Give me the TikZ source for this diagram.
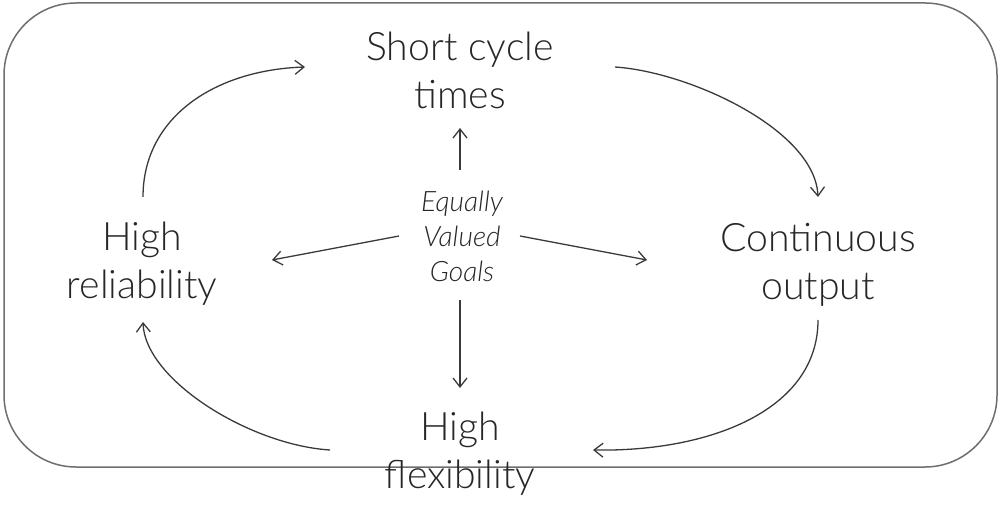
\documentclass[tikz,border=0pt]{standalone}
\usepackage{fontspec}
\setmainfont{Lato}[UprightFont=* Light, ItalicFont=* Light Italic]
\usepackage{tikz}
\usetikzlibrary{arrows.meta, positioning}

\definecolor{ink}{HTML}{262626}
\definecolor{wire}{HTML}{3A3A3A}
\definecolor{frame}{HTML}{6E6E6E}

\begin{document}
\begin{tikzpicture}[x=0.2mm, y=-0.2mm,
    goal/.style={align=center, text=ink, font=\fontsize{22.3}{27.3}\selectfont, inner sep=0pt},
    core/.style={align=center, text=ink, font=\fontsize{16}{19.9}\selectfont\itshape, inner sep=0pt},
    arr/.style={-{Straight Barb[length=1.8mm, width=2.8mm]}, draw=wire, line width=0.26mm}]
    % Canvas size of the reference
    \useasboundingbox (0,0) rectangle (1002,505);

    % Outer rounded frame
    \draw[frame, line width=0.3mm, rounded corners=14.4mm] (4,3) rectangle (997,467);

    % The four goals and the centre
    \node[goal] (cycle) at (460,70) {Short cycle\\times};
    \node[goal] (output) at (818,265) {Continuous\\output};
    \node[goal] (flex) at (460,454) {High\\flexibility};
    \node[goal] (rel) at (142,264) {High\\reliability};
    \node[core] (goals) at (462,236) {Equally\\Valued\\Goals};

    % Ends of the connectors
    \coordinate (goalsN) at (460,170);
    \coordinate (goalsS) at (460,300);
    \coordinate (goalsW) at (399,236);
    \coordinate (goalsE) at (520,236);
    \coordinate (cycleS) at (460,128);
    \coordinate (flexN) at (460,388);
    \coordinate (relE) at (272,260);
    \coordinate (outputW) at (647,260);
    \coordinate (cycleW) at (305,67);
    \coordinate (cycleE) at (615,67);
    \coordinate (outputN) at (818,197);
    \coordinate (outputS) at (818,320);
    \coordinate (flexE) at (593,450);
    \coordinate (flexW) at (330,450);
    \coordinate (relS) at (143,322);
    \coordinate (relN) at (143,197);

    % Centre to goals
    \draw[arr] (goalsN) -- (cycleS);
    \draw[arr] (goalsS) -- (flexN);
    \draw[arr] (goalsW) -- (relE);
    \draw[arr] (goalsE) -- (outputW);

    % Cycle round the goals
    \draw[arr] (relN) .. controls +(0,-80) and +(-90,3) .. (cycleW);
    \draw[arr] (cycleE) .. controls +(75,5) and +(-3,-67) .. (outputN);
    \draw[arr] (outputS) .. controls +(0,90) and +(117,2) .. (flexE);
    \draw[arr] (flexW) .. controls +(-80,-5) and +(2,58) .. (relS);
\end{tikzpicture}
\end{document}
